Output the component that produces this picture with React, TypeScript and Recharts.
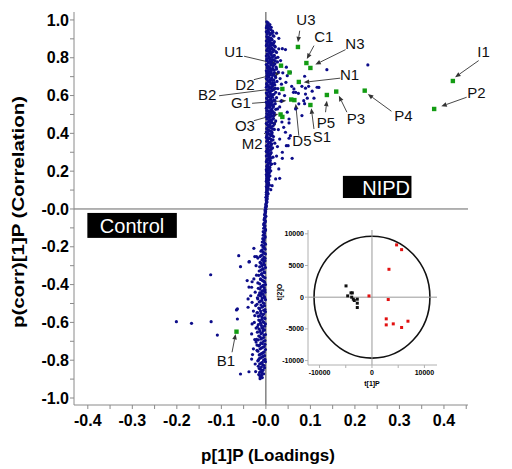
import {
  ReferenceArea,
  ReferenceDot,
  ReferenceLine,
  Scatter,
  ScatterChart,
  XAxis,
  YAxis,
} from "recharts";

const FONT = "'Liberation Sans', Arial, sans-serif";
const NAVY = "#0d0d8a";
const GREEN = "#139c13";

// S-plot loadings: [p[1]P, p(corr)[1]P]
const bandUpper: [number, number][] = [
  [0.002, 0.99], [0.005, 0.985], [0.003, 0.972], [0.008, 0.968], [0.001, 0.958], [0.006, 0.955], [0.011, 0.948], [0.004, 0.944],
  [0.001, 0.938], [0.007, 0.935], [0.013, 0.93], [0.003, 0.925], [0.009, 0.921], [0.016, 0.917], [0.002, 0.912], [0.006, 0.908],
  [0.011, 0.904], [0.004, 0.898], [0.014, 0.895], [0.008, 0.892], [0.001, 0.888], [0.019, 0.885],
  [0.005, 0.882], [0.012, 0.879], [0.003, 0.874], [0.009, 0.871], [0.016, 0.868], [0.001, 0.863], [0.007, 0.86], [0.021, 0.857],
  [0.013, 0.853], [0.004, 0.849], [0.01, 0.846], [0.018, 0.842], [0.002, 0.838], [0.006, 0.834], [0.015, 0.831], [0.024, 0.828],
  [0.009, 0.824], [0.003, 0.82], [0.012, 0.817], [0.019, 0.813], [0.001, 0.809], [0.007, 0.806], [0.014, 0.802],
  [0.022, 0.799], [0.004, 0.796], [0.01, 0.792], [0.017, 0.789], [0.002, 0.785], [0.008, 0.781], [0.026, 0.778], [0.013, 0.775],
  [0.005, 0.771], [0.02, 0.768], [0.001, 0.764], [0.011, 0.761], [0.016, 0.757], [0.006, 0.753], [0.023, 0.75], [0.003, 0.746],
  [0.009, 0.742], [0.014, 0.739], [0.019, 0.735], [0.001, 0.731], [0.007, 0.727], [0.028, 0.724], [0.012, 0.72], [0.004, 0.716],
  [0.017, 0.713], [0.009, 0.709], [0.002, 0.705], [0.021, 0.702],
  [0.006, 0.698], [0.013, 0.694], [0.001, 0.69], [0.01, 0.686], [0.018, 0.683], [0.004, 0.679], [0.025, 0.675], [0.008, 0.671],
  [0.015, 0.668], [0.002, 0.664], [0.011, 0.66], [0.02, 0.656], [0.005, 0.652], [0.014, 0.648], [0.001, 0.644], [0.009, 0.64],
  [0.027, 0.637], [0.017, 0.633], [0.003, 0.629], [0.012, 0.625], [0.007, 0.621], [0.022, 0.617], [0.001, 0.613], [0.01, 0.609],
  [0.016, 0.605], [0.004, 0.601],
  [0.013, 0.597], [0.008, 0.593], [0.024, 0.589], [0.002, 0.585], [0.011, 0.581], [0.018, 0.577], [0.005, 0.573], [0.014, 0.569],
  [0.001, 0.565], [0.009, 0.561], [0.021, 0.557], [0.006, 0.553], [0.012, 0.549], [0.003, 0.545], [0.017, 0.541], [0.008, 0.537],
  [0.001, 0.533], [0.026, 0.529], [0.011, 0.525], [0.004, 0.521], [0.015, 0.517], [0.007, 0.513], [0.019, 0.509], [0.002, 0.505],
  [0.01, 0.501],
  [0.005, 0.497], [0.013, 0.492], [0.001, 0.488], [0.008, 0.484], [0.017, 0.479], [0.003, 0.475], [0.011, 0.47], [0.022, 0.466],
  [0.006, 0.461], [0.014, 0.457], [0.001, 0.452], [0.009, 0.448], [0.004, 0.443], [0.016, 0.439], [0.007, 0.434], [0.012, 0.43],
  [0.002, 0.425], [0.019, 0.421], [0.005, 0.416], [0.01, 0.412], [0.001, 0.407], [0.014, 0.403],
  [0.006, 0.398], [0.003, 0.393], [0.011, 0.388], [0.017, 0.383], [0.001, 0.378], [0.008, 0.373], [0.004, 0.368], [0.013, 0.363],
  [0.002, 0.358], [0.009, 0.353], [0.02, 0.348], [0.005, 0.343], [0.012, 0.338], [0.001, 0.333], [0.007, 0.328], [0.015, 0.323],
  [0.003, 0.318], [0.01, 0.313], [0.006, 0.308], [0.002, 0.303],
  [0.012, 0.298], [0.004, 0.292], [0.008, 0.286], [0.001, 0.28], [0.016, 0.274], [0.006, 0.268], [0.003, 0.262], [0.01, 0.256],
  [0.001, 0.25], [0.007, 0.244], [0.013, 0.238], [0.004, 0.232], [0.002, 0.226], [0.009, 0.22], [0.005, 0.214], [0.001, 0.208],
  [0.011, 0.202],
  [0.003, 0.196], [0.006, 0.189], [0.001, 0.182], [0.009, 0.175], [0.004, 0.168], [0.002, 0.161], [0.007, 0.154], [0.001, 0.147],
  [0.005, 0.14], [0.003, 0.133], [0.008, 0.126], [0.001, 0.119], [0.004, 0.112], [0.002, 0.105],
  [0.003, 0.097], [0.001, 0.088], [0.005, 0.08], [0.002, 0.071], [0.0, 0.062], [0.003, 0.053], [0.001, 0.044], [0.002, 0.035],
  [0.0, 0.026], [0.001, 0.017], [-0.001, 0.008], [0.0, -0.002],
];

const bandUpperFill: [number, number][] = [
  [0.004, 0.981], [0.009, 0.976], [0.002, 0.964], [0.012, 0.961], [0.007, 0.951], [0.015, 0.941], [0.003, 0.932], [0.01, 0.927],
  [0.018, 0.914], [0.005, 0.903], [0.013, 0.899], [0.008, 0.886], [0.017, 0.877], [0.002, 0.869], [0.011, 0.865], [0.02, 0.861],
  [0.006, 0.855], [0.015, 0.844], [0.003, 0.841], [0.009, 0.836], [0.022, 0.833], [0.012, 0.826], [0.005, 0.815], [0.017, 0.809],
  [0.009, 0.8], [0.002, 0.793], [0.014, 0.787], [0.021, 0.783], [0.006, 0.777], [0.011, 0.769], [0.018, 0.762], [0.003, 0.758],
  [0.008, 0.749], [0.015, 0.744], [0.024, 0.74], [0.005, 0.733], [0.012, 0.73], [0.019, 0.722], [0.002, 0.719], [0.009, 0.712],
  [0.015, 0.707], [0.006, 0.7], [0.022, 0.696], [0.003, 0.688], [0.013, 0.681], [0.008, 0.675], [0.019, 0.669], [0.002, 0.658],
  [0.016, 0.654], [0.007, 0.646], [0.012, 0.642], [0.021, 0.638], [0.005, 0.632], [0.014, 0.627], [0.009, 0.618], [0.003, 0.611],
  [0.018, 0.607], [0.012, 0.602],
  [0.006, 0.595], [0.015, 0.591], [0.002, 0.587], [0.01, 0.579], [0.02, 0.575], [0.007, 0.567], [0.013, 0.563], [0.003, 0.555],
  [0.017, 0.551], [0.009, 0.543], [0.005, 0.539], [0.014, 0.531], [0.022, 0.527], [0.002, 0.519], [0.009, 0.515], [0.013, 0.507],
  [0.006, 0.499], [0.018, 0.495], [0.01, 0.486], [0.003, 0.481], [0.015, 0.474], [0.008, 0.468], [0.012, 0.459], [0.002, 0.455],
  [0.019, 0.45], [0.006, 0.441], [0.011, 0.436], [0.003, 0.428], [0.015, 0.423], [0.008, 0.414], [0.013, 0.409], [0.004, 0.401],
  [0.009, 0.395], [0.014, 0.39], [0.002, 0.384], [0.006, 0.376], [0.011, 0.37], [0.016, 0.366], [0.004, 0.36], [0.008, 0.351],
  [0.013, 0.345], [0.003, 0.336], [0.01, 0.331], [0.005, 0.325], [0.012, 0.316], [0.008, 0.311], [0.001, 0.305],
  [0.006, 0.296], [0.01, 0.289], [0.003, 0.283], [0.008, 0.277], [0.012, 0.27], [0.004, 0.265], [0.007, 0.259], [0.002, 0.253],
  [0.009, 0.247], [0.005, 0.24], [0.011, 0.235], [0.003, 0.229], [0.007, 0.223], [0.003, 0.217], [0.008, 0.211], [0.005, 0.205],
  [0.002, 0.199], [0.008, 0.193], [0.004, 0.186], [0.006, 0.179], [0.002, 0.172], [0.006, 0.165], [0.003, 0.157], [0.005, 0.15],
  [0.002, 0.143], [0.006, 0.137], [0.003, 0.129], [0.004, 0.122], [0.002, 0.115], [0.005, 0.109], [0.003, 0.101], [0.002, 0.093],
  [0.004, 0.084], [0.001, 0.076], [0.003, 0.066], [0.002, 0.058], [0.001, 0.049], [0.002, 0.04], [0.001, 0.031], [0.0, 0.021],
  [0.001, 0.012],
];

const bandLower: [number, number][] = [
  [-0.001, -0.012], [-0.002, -0.025], [0.0, -0.038], [-0.003, -0.05], [-0.001, -0.063], [-0.004, -0.076], [-0.002, -0.089],
  [-0.005, -0.102], [-0.001, -0.114], [-0.003, -0.127], [-0.006, -0.139], [-0.002, -0.151], [-0.004, -0.163], [-0.008, -0.175],
  [-0.001, -0.186], [-0.005, -0.197],
  [-0.003, -0.208], [-0.009, -0.218], [-0.006, -0.228], [-0.001, -0.238], [-0.011, -0.247], [-0.004, -0.256], [-0.007, -0.265],
  [-0.002, -0.274], [-0.013, -0.283], [-0.005, -0.292], [-0.009, -0.301], [-0.001, -0.31], [-0.006, -0.319], [-0.015, -0.328],
  [-0.003, -0.337], [-0.01, -0.346], [-0.007, -0.355], [-0.002, -0.364], [-0.012, -0.373], [-0.005, -0.382], [-0.018, -0.391],
  [-0.001, -0.4], [-0.008, -0.408], [-0.004, -0.416], [-0.013, -0.424], [-0.006, -0.432], [-0.002, -0.44], [-0.01, -0.448],
  [-0.016, -0.456], [-0.004, -0.464], [-0.008, -0.472], [-0.001, -0.48], [-0.012, -0.488], [-0.006, -0.496], [-0.02, -0.504],
  [-0.003, -0.512], [-0.009, -0.52], [-0.014, -0.528], [-0.005, -0.536], [-0.001, -0.544], [-0.011, -0.552], [-0.007, -0.56],
  [-0.017, -0.568], [-0.003, -0.576], [-0.009, -0.584], [-0.013, -0.592],
  [-0.005, -0.6], [-0.001, -0.608], [-0.01, -0.616], [-0.019, -0.624], [-0.007, -0.632], [-0.003, -0.64], [-0.013, -0.648],
  [-0.008, -0.656], [-0.001, -0.664], [-0.016, -0.672], [-0.005, -0.68], [-0.011, -0.688], [-0.002, -0.696], [-0.022, -0.704],
  [-0.008, -0.712], [-0.014, -0.72], [-0.004, -0.728], [-0.01, -0.736], [-0.001, -0.744], [-0.018, -0.752], [-0.006, -0.76],
  [-0.012, -0.768], [-0.003, -0.776], [-0.009, -0.784], [-0.015, -0.792], [-0.005, -0.8], [-0.001, -0.808], [-0.011, -0.816],
  [-0.007, -0.824], [-0.017, -0.832], [-0.003, -0.84], [-0.012, -0.848], [-0.008, -0.856], [-0.014, -0.864], [-0.005, -0.872],
  [-0.01, -0.88], [-0.013, -0.888],
];

const bandLowerFill: [number, number][] = [
  [-0.002, -0.006], [-0.001, -0.019], [-0.003, -0.031], [-0.002, -0.044], [-0.004, -0.057], [-0.002, -0.07], [-0.005, -0.083],
  [-0.003, -0.095], [-0.001, -0.108], [-0.006, -0.12], [-0.004, -0.133], [-0.002, -0.145], [-0.007, -0.157], [-0.005, -0.169],
  [-0.003, -0.181], [-0.009, -0.192], [-0.006, -0.203], [-0.002, -0.213], [-0.011, -0.223], [-0.004, -0.233], [-0.008, -0.243],
  [-0.013, -0.252], [-0.002, -0.261], [-0.009, -0.27], [-0.005, -0.279], [-0.011, -0.288], [-0.003, -0.297], [-0.014, -0.306],
  [-0.007, -0.315], [-0.011, -0.324], [-0.004, -0.333], [-0.009, -0.342], [-0.016, -0.351], [-0.005, -0.36], [-0.012, -0.369],
  [-0.008, -0.378], [-0.003, -0.387], [-0.014, -0.396], [-0.006, -0.404], [-0.011, -0.412], [-0.017, -0.42], [-0.002, -0.428],
  [-0.009, -0.436], [-0.014, -0.444], [-0.006, -0.452], [-0.012, -0.46], [-0.003, -0.468], [-0.018, -0.476], [-0.009, -0.484],
  [-0.015, -0.492], [-0.004, -0.5], [-0.011, -0.508], [-0.007, -0.516], [-0.016, -0.524], [-0.002, -0.532], [-0.012, -0.54],
  [-0.019, -0.548], [-0.005, -0.556], [-0.014, -0.564], [-0.009, -0.572], [-0.002, -0.58], [-0.016, -0.588], [-0.006, -0.596],
  [-0.012, -0.604], [-0.017, -0.612], [-0.003, -0.62], [-0.009, -0.628], [-0.015, -0.636], [-0.006, -0.644], [-0.019, -0.652],
  [-0.011, -0.66], [-0.004, -0.668], [-0.013, -0.676], [-0.008, -0.684], [-0.017, -0.692], [-0.005, -0.7], [-0.011, -0.708],
  [-0.002, -0.716], [-0.016, -0.724], [-0.007, -0.732], [-0.013, -0.74], [-0.02, -0.748], [-0.004, -0.756], [-0.009, -0.764],
  [-0.015, -0.772], [-0.006, -0.78], [-0.012, -0.788], [-0.002, -0.796], [-0.018, -0.804], [-0.008, -0.812], [-0.014, -0.82],
  [-0.004, -0.828], [-0.01, -0.836], [-0.015, -0.844], [-0.006, -0.852], [-0.011, -0.86], [-0.009, -0.868], [-0.016, -0.876],
  [-0.012, -0.884], [-0.008, -0.892], [-0.013, -0.898],
];

const scatterUpper: [number, number][] = [
  [0.016, 0.935], [0.029, 0.903], [0.029, 0.847], [0.044, 0.843], [0.037, 0.848], [0.027, 0.802], [0.046, 0.75], [0.055, 0.723],
  [0.048, 0.705], [0.137, 0.737], [0.229, 0.762], [0.087, 0.702], [0.081, 0.649], [0.089, 0.639], [0.096, 0.649], [0.115, 0.644],
  [0.063, 0.635], [0.067, 0.617], [0.089, 0.608], [0.108, 0.586], [0.093, 0.586], [0.085, 0.573], [0.074, 0.556], [0.067, 0.529],
  [0.081, 0.494], [0.048, 0.512], [0.052, 0.476], [0.04, 0.432], [0.052, 0.374], [0.046, 0.335], [0.059, 0.268], [0.037, 0.268],
  [0.031, 0.162], [0.022, 0.159], [0.052, 0.455], [0.044, 0.406], [0.055, 0.388], [0.05, 0.335], [0.037, 0.3], [0.029, 0.212],
  [0.014, 0.123], [0.011, 0.102], [0.119, 0.643], [0.104, 0.623], [0.073, 0.612], [0.058, 0.649], [0.062, 0.617], [0.087, 0.557],
  [0.033, 0.785], [0.038, 0.72], [0.032, 0.69], [0.035, 0.66], [0.03, 0.61], [0.034, 0.57], [0.031, 0.54], [0.036, 0.46],
  [0.028, 0.42], [0.031, 0.37], [0.026, 0.33], [0.024, 0.28], [0.02, 0.24], [0.042, 0.6], [0.045, 0.67], [0.024, 0.93],
];

const scatterLower: [number, number][] = [
  [-0.061, -0.247], [-0.057, -0.305], [-0.124, -0.348], [-0.038, -0.28], [-0.201, -0.596], [-0.167, -0.605], [-0.123, -0.596],
  [-0.109, -0.667], [-0.064, -0.582], [-0.066, -0.534], [-0.032, -0.794], [-0.057, -0.873], [-0.038, -0.861], [-0.042, -0.379],
  [-0.038, -0.413], [-0.04, -0.476], [-0.031, -0.608], [-0.032, -0.661], [-0.025, -0.691], [-0.021, -0.69], [-0.027, -0.208],
  [-0.037, -0.279], [-0.025, -0.252], [-0.021, -0.252], [-0.031, -0.385], [-0.027, -0.37], [-0.032, -0.414], [-0.034, -0.459],
  [-0.031, -0.494], [-0.023, -0.511], [-0.064, -0.529], [-0.04, -0.52], [-0.028, -0.54], [-0.025, -0.564], [-0.022, -0.3],
  [-0.024, -0.44], [-0.026, -0.6], [-0.028, -0.74], [-0.024, -0.82], [-0.03, -0.77], [-0.021, -0.35], [-0.019, -0.47],
  [-0.022, -0.63], [-0.02, -0.72], [-0.023, -0.86], [-0.018, -0.26], [-0.02, -0.55], [-0.017, -0.8],
];

// highlighted metabolites
const markerNames = ["U3", "C1", "N3", "I1", "P2", "P4", "P3", "P5", "S1", "D5", "G1", "N1", "U1", "D2", "B2", "O3", "M2", "B1"];
const markerX = [0.072, 0.091, 0.1, 0.42, 0.378, 0.222, 0.158, 0.137, 0.1, 0.064, 0.057, 0.074, 0.034, 0.053, 0.037, 0.033, 0.037, -0.066];
const markerY = [0.857, 0.772, 0.746, 0.677, 0.529, 0.626, 0.621, 0.603, 0.55, 0.576, 0.579, 0.672, 0.758, 0.722, 0.635, 0.5, 0.487, -0.649];
// where the name sits and where its arrow starts / ends
const nameX = [0.09, 0.13, 0.2, 0.489, 0.473, 0.309, 0.202, 0.135, 0.126, 0.081, -0.056, 0.188, -0.072, -0.047, -0.132, -0.047, -0.031, -0.09];
const nameY = [1.0, 0.915, 0.878, 0.831, 0.614, 0.492, 0.481, 0.46, 0.381, 0.36, 0.561, 0.709, 0.831, 0.661, 0.603, 0.444, 0.349, -0.799];
const tailX = [0.076, 0.108, 0.179, 0.478, 0.451, 0.282, 0.182, 0.134, 0.108, 0.074, -0.031, 0.167, -0.049, -0.027, -0.105, -0.027, -0.004, -0.076];
const tailY = [0.943, 0.864, 0.843, 0.785, 0.591, 0.517, 0.512, 0.512, 0.423, 0.388, 0.559, 0.692, 0.808, 0.684, 0.599, 0.467, 0.397, -0.758];
const tipX = [0.072, 0.092, 0.111, 0.425, 0.394, 0.229, 0.164, 0.137, 0.102, 0.067, 0.046, 0.085, 0.025, 0.033, 0.029, 0.028, 0.025, -0.068];
const tipY = [0.882, 0.794, 0.764, 0.697, 0.543, 0.608, 0.599, 0.573, 0.533, 0.556, 0.573, 0.67, 0.767, 0.72, 0.639, 0.503, 0.467, -0.661];

const xTicks = [-0.4, -0.35, -0.3, -0.25, -0.2, -0.15, -0.1, -0.05, 0, 0.05, 0.1, 0.15, 0.2, 0.25, 0.3, 0.35, 0.4, 0.45];
const yTicks = [-1.0, -0.9, -0.8, -0.7, -0.6, -0.5, -0.4, -0.3, -0.2, -0.1, 0, 0.1, 0.2, 0.3, 0.4, 0.5, 0.6, 0.7, 0.8, 0.9, 1.0];

// inset score plot t[1]P vs t[2]O
const controlT1 = [-4950, -4630, -4000, -3750, -3870, -3560, -3370, -2800, -2800, -2800];
const controlT2 = [1780, 205, 680, 680, 0, -315, -520, -315, -950, -1630];
const nipdT1 = [-570, 4700, 5650, 3240, 3100, 2720, 2720, 4060, 6860, 5650];
const nipdT2 = [200, 8250, 7500, 4400, -370, -3420, -4370, -4210, -3790, -4780];
const ellipseT1 = 11050;
const ellipseT2 = 9620;
const insetXTicks = [-10000, -5000, 0, 5000, 10000];
const insetYTicks = [-10000, -5000, 0, 5000, 10000];

const blueData = [...bandUpper, ...bandUpperFill, ...bandLower, ...bandLowerFill, ...scatterUpper, ...scatterLower].map(([x, y]) => ({ x, y }));
const markerData = markerNames.map((n, i) => ({ x: markerX[i], y: markerY[i], name: n }));
const controlData = controlT1.map((x, i) => ({ x, y: controlT2[i] }));
const nipdData = nipdT1.map((x, i) => ({ x, y: nipdT2[i] }));

const fmt1 = (v: number) => (Math.abs(v) < 1e-9 ? "-0.0" : v.toFixed(1));

const Arrow = (p: any) => {
  const { x1, y1, x2, y2 } = p;
  const a = Math.atan2(y2 - y1, x2 - x1);
  const len = 5.5;
  const w = 2.3;
  const bx = x2 - len * Math.cos(a);
  const by = y2 - len * Math.sin(a);
  const pts = `${x2},${y2} ${bx + w * Math.sin(a)},${by - w * Math.cos(a)} ${bx - w * Math.sin(a)},${by + w * Math.cos(a)}`;
  return (
    <g>
      <line x1={x1} y1={y1} x2={bx} y2={by} stroke="#333" strokeWidth={0.9} />
      <polygon points={pts} fill="#333" />
    </g>
  );
};

const TagBox = (label: string, shift: number) => (p: any) => (
  <g>
    <rect x={p.x} y={p.y} width={p.width} height={p.height} fill="#000" />
    <text
      x={p.x + p.width / 2 + shift}
      y={p.y + p.height / 2 + 1}
      textAnchor="middle"
      dominantBaseline="central"
      fill="#fff"
      fontSize={20}
      fontFamily={FONT}
    >
      {label}
    </text>
  </g>
);

const YTitle = () => (
  <text
    x={18}
    y={212}
    transform="rotate(-90, 18, 212)"
    textAnchor="middle"
    dominantBaseline="central"
    fontSize={17}
    fontWeight="bold"
    fontFamily={FONT}
    fill="#000"
    textLength={232}
    lengthAdjust="spacingAndGlyphs"
  >
    p(corr)[1]P (Correlation)
  </text>
);

const XTitle = () => (
  <text x={268} y={455} textAnchor="middle" dominantBaseline="central" fontSize={17} fontWeight="bold" fontFamily={FONT} fill="#000">
    p[1]P (Loadings)
  </text>
);

const InsetYTitle = () => (
  <text x={9} y={72} transform="rotate(-90, 9, 72)" textAnchor="middle" dominantBaseline="central" fontSize={7} fontWeight="bold" fontFamily={FONT} fill="#000">
    t[2]O
  </text>
);

const InsetXTitle = () => (
  <text x={102} y={163} textAnchor="middle" dominantBaseline="central" fontSize={7} fontWeight="bold" fontFamily={FONT} fill="#000">
    t[1]P
  </text>
);

function Inset() {
  return (
    <ScatterChart width={175} height={175} margin={{ top: 10, right: 8, bottom: 0, left: 0 }}>
      <XAxis
        type="number"
        dataKey="x"
        domain={[-12200, 12400]}
        allowDataOverflow
        ticks={insetXTicks}
        interval={0}
        tickFormatter={(v: number) => (v % 10000 === 0 ? String(v) : "")}
        stroke="#b0b0b0"
        tickSize={3}
        tickMargin={2}
        tick={{ fill: "#000", fontSize: 7, fontWeight: "bold", fontFamily: FONT }}
        height={30}
        label={<InsetXTitle />}
      />
      <YAxis
        type="number"
        dataKey="y"
        domain={[-10700, 10600]}
        allowDataOverflow
        ticks={insetYTicks}
        interval={0}
        stroke="#b0b0b0"
        tickSize={3}
        tickMargin={1}
        tick={{ fill: "#000", fontSize: 7, fontWeight: "bold", fontFamily: FONT }}
        width={38}
        label={<InsetYTitle />}
      />
      <ReferenceLine x={0} stroke="#999" strokeWidth={1} />
      <ReferenceLine y={0} stroke="#999" strokeWidth={1} />
      <ReferenceArea
        x1={-ellipseT1}
        x2={ellipseT1}
        y1={-ellipseT2}
        y2={ellipseT2}
        shape={(p: any) => (
          <ellipse cx={p.x + p.width / 2} cy={p.y + p.height / 2} rx={p.width / 2} ry={p.height / 2} fill="none" stroke="#111" strokeWidth={1.6} />
        )}
      />
      <Scatter
        data={controlData}
        isAnimationActive={false}
        shape={(p: any) => <rect x={p.cx - 1.5} y={p.cy - 1.5} width={3} height={3} fill="#111" />}
      />
      <Scatter
        data={nipdData}
        isAnimationActive={false}
        shape={(p: any) => <rect x={p.cx - 1.5} y={p.cy - 1.5} width={3} height={3} fill="#e21010" />}
      />
    </ScatterChart>
  );
}

export default function App() {
  return (
    <div style={{ position: "absolute", left: 0, top: 0, width: 512, height: 469, background: "#fff", fontFamily: FONT }}>
      <ScatterChart width={512} height={469} margin={{ top: 12, right: 44, bottom: 0, left: 0 }}>
        <XAxis
          type="number"
          dataKey="x"
          domain={[-0.431, 0.454]}
          allowDataOverflow
          ticks={xTicks}
          interval={0}
          tickFormatter={(v: number) => (Math.round(v * 20) % 2 === 0 ? fmt1(v) : "")}
          stroke="#8a8a8a"
          tickSize={4}
          tickMargin={6}
          tick={{ fill: "#000", fontSize: 16, fontWeight: "bold", fontFamily: FONT }}
          height={64}
          label={<XTitle />}
        />
        <YAxis
          type="number"
          dataKey="y"
          domain={[-1.037, 1.042]}
          allowDataOverflow
          ticks={yTicks}
          interval={0}
          tickFormatter={(v: number) => (Math.round(v * 10) % 2 === 0 ? fmt1(v) : "")}
          stroke="#8a8a8a"
          tickSize={4}
          tickMargin={1}
          tick={{ fill: "#000", fontSize: 16, fontWeight: "bold", fontFamily: FONT }}
          width={74}
          label={<YTitle />}
        />
        <ReferenceLine x={0} stroke="#444" strokeWidth={1} />
        <ReferenceLine y={0} stroke="#666" strokeWidth={1} />
        <ReferenceArea x1={0.173} x2={0.327} y1={0.058} y2={0.175} ifOverflow="visible" shape={TagBox("NIPD", 9)} />
        <ReferenceArea x1={-0.401} x2={-0.2} y1={-0.153} y2={-0.021} ifOverflow="visible" shape={TagBox("Control", 0)} />
        <Scatter
          data={blueData}
          isAnimationActive={false}
          shape={(p: any) => <circle cx={p.cx} cy={p.cy} r={1.6} fill={NAVY} />}
        />
        <Scatter
          data={markerData}
          isAnimationActive={false}
          shape={(p: any) => <rect x={p.cx - 2.2} y={p.cy - 2.2} width={4.4} height={4.4} fill={GREEN} />}
        />
        {markerNames.map((n, i) => (
          <ReferenceLine
            key={"a" + n}
            segment={[
              { x: tailX[i], y: tailY[i] },
              { x: tipX[i], y: tipY[i] },
            ]}
            ifOverflow="visible"
            shape={Arrow}
          />
        ))}
        {markerNames.map((n, i) => (
          <ReferenceDot
            key={"t" + n}
            x={nameX[i]}
            y={nameY[i]}
            r={0}
            ifOverflow="visible"
            shape={(p: any) => (
              <text x={p.cx} y={p.cy} textAnchor="middle" dominantBaseline="central" fontSize={15} fontFamily={FONT} fill="#111">
                {n}
              </text>
            )}
          />
        ))}
      </ScatterChart>
      <div style={{ position: "absolute", left: 270, top: 220 }}>
        <Inset />
      </div>
    </div>
  );
}
